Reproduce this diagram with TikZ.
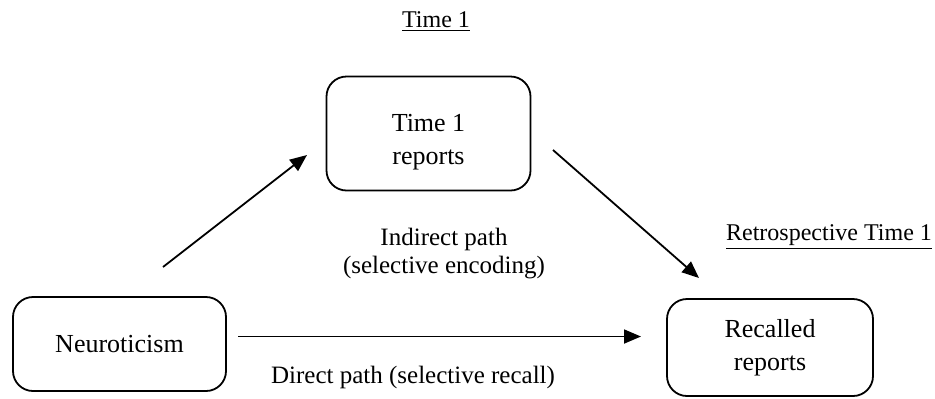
\documentclass[tikz,border=0pt]{standalone}
\usepackage{fontspec}
\setmainfont{Liberation Serif}
\usetikzlibrary{arrows.meta}
\begin{document}
\begin{tikzpicture}[x=0.5pt,y=-0.5pt,
  box/.style={draw, line width=0.9pt, rounded corners=10pt, inner sep=0pt, align=center,
    font=\fontsize{13}{16.5}\selectfont},
  lbl/.style={align=center, font=\fontsize{12.5}{14}\selectfont},
  hdr/.style={font=\fontsize{12}{14}\selectfont},
  conn/.style={line width=0.9pt, -{Triangle[length=8.5pt,width=7pt]}}]
\useasboundingbox (0,0) rectangle (935,398);
\node[box, minimum width=102pt, minimum height=57pt] (t1) at (428.5,133.5) {\rule{0pt}{17pt}Time 1\\reports};
\node[box, minimum width=106.5pt, minimum height=47pt] (neuro) at (119.5,344) {Neuroticism};
\node[box, minimum width=103pt, minimum height=48.5pt] (rec) at (770,347.5) {Recalled\\reports};
\node[hdr] (h1) at (436,22) {\underline{Time 1}};
\node[hdr] (h2) at (829,237) {\underline{Retrospective Time 1}};
\node[lbl] (ind) at (444,254) {Indirect path\\(selective encoding)};
\node[lbl] (dir) at (413,377) {Direct path (selective recall)};
\coordinate (a1s) at (163,267);
\coordinate (a1e) at (307,155);
\coordinate (a2s) at (553,150);
\coordinate (a2e) at (699,278);
\coordinate (a3s) at (238,336.5);
\coordinate (a3e) at (641,336.5);
\draw[conn] (a1s) -- (a1e);
\draw[conn] (a2s) -- (a2e);
\draw[conn] (a3s) -- (a3e);
\end{tikzpicture}
\end{document}
